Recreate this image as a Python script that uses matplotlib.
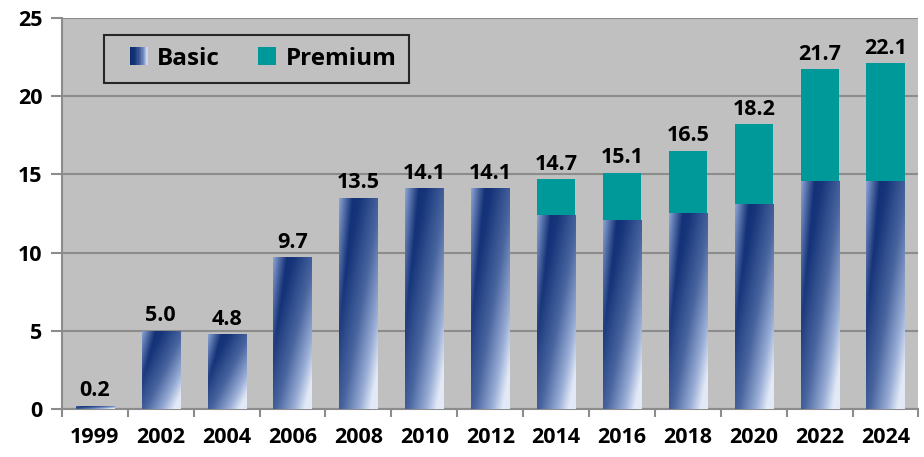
import numpy as np
import matplotlib
matplotlib.use("Agg")
import matplotlib.pyplot as plt
from matplotlib.patches import Rectangle
from matplotlib.colors import LinearSegmentedColormap, to_rgba
from matplotlib.legend_handler import HandlerBase

# Data
years = ["1999", "2002", "2004", "2006", "2008", "2010", "2012",
         "2014", "2016", "2018", "2020", "2022", "2024"]
basic = [0.2, 5.0, 4.8, 9.7, 13.5, 14.1, 14.1, 12.4, 12.1, 12.5, 13.1, 14.6, 14.6]
totals = [0.2, 5.0, 4.8, 9.7, 13.5, 14.1, 14.1, 14.7, 15.1, 16.5, 18.2, 21.7, 22.1]
premium = [t - b for t, b in zip(totals, basic)]

plt.rcParams['font.family'] = ['Open Sans', 'DejaVu Sans']

main_cmap = LinearSegmentedColormap.from_list(
    "basic_main",
    [(0.0, "#0a286c"), (0.3, "#17357a"), (0.6, "#4a66a0"),
     (0.85, "#9aaed6"), (1.0, "#e2e9f7")])
highlight = np.array(to_rgba("#a4bbe8"))


def gradient_image(nx=60, ny=200):
    u = np.linspace(0, 1, nx)[None, :]
    v = np.linspace(1, 0, ny)[:, None]   # row 0 is the top of the bar
    s = np.clip(0.55 * u + 0.55 * (1 - v), 0, 1)
    img = main_cmap(s)
    # light strip on the upper left edge, fading out downwards
    fade = np.clip((v - 0.35) / 0.65, 0, 1)
    ud = np.clip(0.36 * fade, 1e-3, None)
    w = np.clip((ud - u) / ud, 0, 1) * fade
    w = w[..., None] * 0.85
    return img * (1 - w) + highlight * w


class GradientHandler(HandlerBase):
    def create_artists(self, legend, orig_handle, xdescent, ydescent,
                       width, height, fontsize, trans):
        size = height * 1.05
        x0 = -xdescent + width - size
        y0 = -ydescent + (height - size) / 2
        n = 14
        arts = []
        for i in range(n):
            c = main_cmap(0.05 + 0.9 * i / (n - 1))
            arts.append(Rectangle((x0 + i * size / n, y0), size / n + 0.3, size,
                                  facecolor=c, edgecolor="none", transform=trans))
        return arts


class SquareHandler(HandlerBase):
    def create_artists(self, legend, orig_handle, xdescent, ydescent,
                       width, height, fontsize, trans):
        size = height * 1.05
        x0 = -xdescent + width - size
        y0 = -ydescent + (height - size) / 2
        return [Rectangle((x0, y0), size, size, facecolor="#009999",
                          edgecolor="none", transform=trans)]


fig = plt.figure(figsize=(9.24, 4.57), dpi=100)
ax = fig.add_axes([0.067, 0.105, 0.927, 0.856])
ax.set_facecolor("#c0c0c0")

x = np.arange(len(years))
width = 0.58

bars = ax.bar(x, basic, width, facecolor="none", edgecolor="none", zorder=3)
img = gradient_image()
for b in bars:
    x0, y0 = b.get_x(), b.get_y()
    im = ax.imshow(img, extent=(x0, x0 + b.get_width(), y0, y0 + b.get_height()),
                   aspect="auto", interpolation="bilinear", zorder=3)
    im.set_clip_path(b)

prem = ax.bar(x, premium, width, bottom=basic, color="#009999", zorder=3)

for xi, t in zip(x, totals):
    ax.text(xi, t + 0.6, f"{t:.1f}", ha="center", va="baseline",
            fontsize=15.5, fontweight="bold", color="black", zorder=4)

ax.set_xlim(-0.5, len(years) - 0.5)
ax.set_ylim(0, 25)
ax.set_yticks(range(0, 26, 5))
ax.set_xticks(x)
ax.set_xticklabels(years)
ax.set_xticks(np.arange(-0.5, len(years), 1), minor=True)
ax.tick_params(axis="x", which="major", length=0, pad=13, labelsize=15.5)
ax.tick_params(axis="x", which="minor", length=6, width=1.5, color="#8c8c8c")
ax.tick_params(axis="y", length=8, width=1.5, color="#8c8c8c", labelsize=15.5, pad=6)
for lab in ax.get_xticklabels() + ax.get_yticklabels():
    lab.set_fontweight("bold")

ax.yaxis.grid(True, color="#8c8c8c", linewidth=1.5, zorder=0)
ax.set_axisbelow(True)
for side in ["top", "right"]:
    ax.spines[side].set_visible(False)
for side in ["left", "bottom"]:
    ax.spines[side].set_color("#8c8c8c")
    ax.spines[side].set_linewidth(1.5)

basic_handle = Rectangle((0, 0), 1, 1)
prem_handle = Rectangle((0, 0), 1, 1)
leg = ax.legend([basic_handle, prem_handle], ["Basic", "Premium"],
                handler_map={basic_handle: GradientHandler(), prem_handle: SquareHandler()},
                loc="upper left", bbox_to_anchor=(0.049, 0.957), borderaxespad=0,
                ncol=2, frameon=True, fancybox=False, edgecolor="black",
                prop={"size": 17.5, "weight": "bold"},
                handlelength=1.3, handletextpad=0.4, columnspacing=1.0,
                borderpad=0.5)
leg.get_frame().set_facecolor("#c0c0c0")
leg.get_frame().set_linewidth(1.5)

fig.savefig("out.png", dpi=100)
